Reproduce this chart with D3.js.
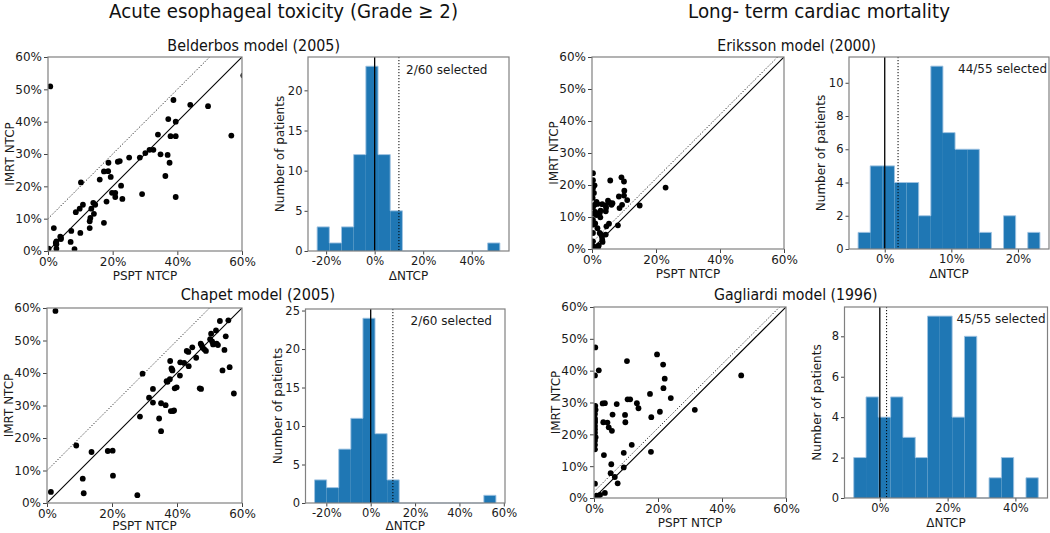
<!DOCTYPE html>
<html><head><meta charset="utf-8">
<script src="https://cdn.jsdelivr.net/npm/d3@7"></script>
<style>
body{margin:0;background:#fff}
svg{display:block}
text{font-family:"DejaVu Sans",sans-serif}
</style>
</head><body>
<svg id="c" width="1050" height="533"></svg>
<script>
// ---------------- DATA ----------------
const groupTitles = ["Acute esophageal toxicity (Grade \u2265 2)", "Long- term cardiac mortality"];
const modelTitles = ["Belderbos model (2005)", "Chapet model (2005)", "Eriksson model (2000)", "Gagliardi model (1996)"];
const selectedLabels = ["2/60 selected", "2/60 selected", "44/55 selected", "45/55 selected"];
const thresholds = [10, 10, 2, 2];

// scatter: PSPT NTCP (x) vs IMRT NTCP (y), in %
const belderbosPSPT = [0.7,0.2,1.8,2.6,2.6,2.6,4.0,4.0,7.0,7.2,8.2,8.6,9.8,10.8,10.0,10.2,12.9,12.9,13.1,13.4,14.0,14.2,14.6,16.0,17.3,17.3,18.1,18.6,18.7,19.4,19.8,20.8,20.8,21.6,22.2,22.6,23.0,25.1,28.4,29.1,30.1,31.4,32.6,34.0,34.8,36.3,37.0,37.2,37.6,37.9,38.8,39.5,39.5,39.5,44.0,49.5,56.7,60.4,3.8,2.4];
const belderbosIMRT = [50.9,0.7,7.1,3.0,2.1,0.7,4.1,3.7,2.8,6.2,0.6,12.0,13.1,14.3,5.6,21.2,7.1,9.2,10.2,13.1,14.9,11.5,14.3,22.1,8.7,24.6,15.3,24.7,27.3,22.9,18.0,18.0,16.7,27.6,27.8,20.2,16.1,28.9,28.9,17.6,30.3,31.3,31.3,36.0,29.9,23.2,29.7,40.8,27.3,35.5,46.7,40.0,35.5,16.7,45.2,44.8,35.7,54.3,4.4,2.5];

const chapetPSPT = [1.2,2.6,9.0,11.0,11.3,13.7,18.7,20.2,20.3,27.8,28.6,29.4,31.4,32.6,32.6,34.5,35.1,35.1,36.5,37.1,37.8,37.9,38.1,38.3,38.6,38.8,39.1,39.3,39.9,40.9,41.0,42.2,43.5,43.6,44.7,45.9,47.0,47.3,47.4,47.9,48.4,48.9,50.2,50.5,51.1,52.0,52.2,52.6,53.2,54.0,54.6,55.0,55.8,56.2,57.5,38.5,47.6,50.8,43.0,36.8];
const chapetIMRT = [3.4,59.1,17.7,7.5,3.0,15.7,16.0,16.1,8.4,2.4,26.6,39.8,32.4,35.1,30.9,26.0,22.1,30.7,30.1,37.3,38.1,43.7,28.3,41.4,40.8,28.3,28.5,35.3,35.6,39.2,43.3,43.1,46.5,42.1,47.9,44.7,35.3,49.0,35.1,47.8,47.3,46.8,50.4,52.1,48.8,53.1,49.0,48.6,56.0,40.8,47.1,51.3,56.2,41.8,33.7,41.0,48.5,49.7,46.8,37.5];

const erikssonPSPT = [0.3,0.3,0.8,0.3,0.3,0.3,0.3,0.3,0.5,0.8,1.0,1.4,1.7,1.4,1.7,1.9,2.1,2.4,2.6,2.7,2.4,2.9,3.1,3.2,3.3,3.2,4.3,4.3,4.4,4.3,4.5,5.0,5.5,5.3,5.7,6.1,6.4,8.1,8.4,8.6,9.2,9.4,10.0,10.0,10.1,11.0,14.9,23.0,0.3,0.3,0.2,1.2,0.6,0.3,1.0];
const erikssonIMRT = [23.7,19.8,19.9,19.0,11.0,9.1,7.6,2.4,0.8,13.8,11.6,14.7,14.1,10.6,6.5,0.6,1.1,11.2,9.9,12.0,5.0,4.5,3.9,2.9,2.2,14.0,13.6,11.8,12.9,4.5,7.1,15.1,14.5,7.9,21.4,13.8,14.3,7.4,16.4,12.8,22.4,13.8,21.1,16.7,18.2,15.3,13.6,19.2,13.0,5.0,16.0,0.4,17.5,21.5,8.0];

const gagliardiPSPT = [0.4,0.3,1.5,0.4,0.5,0.3,0.3,0.3,0.3,0.3,0.5,0.3,0.3,0.3,0.8,1.9,2.7,3.4,3.1,2.9,3.4,4.2,4.6,5.2,5.4,5.6,5.8,6.5,7.1,7.4,9.3,9.3,9.7,9.8,10.3,10.5,11.3,11.8,13.4,13.9,17.5,17.9,17.8,19.7,20.6,21.6,21.7,22.1,24.0,31.5,46.0,0.3,0.3,0.3,1.2];
const gagliardiIMRT = [47.3,38.5,40.1,28.9,27.7,26.4,25.0,23.7,22.6,21.6,19.1,16.7,15.3,4.5,0.7,1.0,29.7,29.8,13.5,23.8,1.6,23.7,22.2,7.8,10.6,21.1,26.2,6.6,29.5,4.6,14.2,9.6,26.1,23.8,43.0,31.0,31.0,16.7,29.8,28.2,32.7,25.4,14.5,45.1,27.1,41.9,34.5,37.5,31.4,27.7,38.5,20.5,18.0,24.3,0.3];

// histograms of ΔNTCP (IMRT - PSPT), 15 bins each
const belderbosCounts = [3,1,3,12,23,12,5,0,0,0,0,0,0,0,1];
const chapetCounts    = [3,2,7,11,24,9,3,0,0,0,0,0,0,0,1];
const erikssonCounts  = [1,5,5,4,4,2,11,7,6,6,1,0,2,0,1];
const gagliardiCounts = [2,5,4,5,3,2,9,9,4,8,0,1,2,0,1];
const binStarts = [-23.7, -25.3, -4.0, -7.7];
const binWidths = [5.02, 5.45, 1.82, 3.63];

// tick labels
const scatterTicksX = [0, 20, 40, 60];
const scatterTicksY = [0, 10, 20, 30, 40, 50, 60];
const histTicksX = [[-20, 0, 20, 40], [-20, 0, 20, 40, 60], [0, 10, 20], [0, 20, 40]];
const histTicksY = [[0, 5, 10, 15, 20], [0, 5, 10, 15, 20, 25], [0, 2, 4, 6, 8, 10], [0, 2, 4, 6, 8]];

// ---------------- LAYOUT ----------------
const svg = d3.select("#c");
const FS = 12;
const BLUE = "#1f77b4";

const scatterBoxes = [
  {x0: 48, x1: 242, y0: 57, y1: 251},
  {x0: 47, x1: 242, y0: 308, y1: 503},
  {x0: 592, x1: 784, y0: 57, y1: 249},
  {x0: 594, x1: 786, y0: 307, y1: 498}
];
const histBoxes = [
  {x0: 308, x1: 509, y0: 57, y1: 251},
  {x0: 305.5, x1: 505, y0: 309, y1: 503},
  {x0: 849, x1: 1049, y0: 57, y1: 249},
  {x0: 844.5, x1: 1047.5, y0: 307, y1: 498}
];
const scatterData = [
  [belderbosPSPT, belderbosIMRT], [chapetPSPT, chapetIMRT],
  [erikssonPSPT, erikssonIMRT], [gagliardiPSPT, gagliardiIMRT]
];
const histCounts = [belderbosCounts, chapetCounts, erikssonCounts, gagliardiCounts];

function xLabelY(b) { return Math.min(b.y1 + 29, 530); }

function styleAxis(ax, fs) {
  ax.select(".domain").remove();
  ax.selectAll(".tick line").attr("stroke", "#444").attr("stroke-width", 1);
  ax.selectAll(".tick text").attr("fill", "#1a1a1a").attr("font-size", fs)
    .attr("font-family", "DejaVu Sans, sans-serif");
}

function drawScatter(i) {
  const b = scatterBoxes[i];
  const [xs, ys] = scatterData[i];
  const thr = thresholds[i];
  const x = d3.scaleLinear().domain([0, 60]).range([b.x0, b.x1]);
  const y = d3.scaleLinear().domain([0, 60]).range([b.y1, b.y0]);
  const g = svg.append("g");
  const cid = "clipS" + i;
  svg.append("clipPath").attr("id", cid).append("rect")
    .attr("x", b.x0).attr("y", b.y0).attr("width", b.x1 - b.x0).attr("height", b.y1 - b.y0);
  const pg = g.append("g").attr("clip-path", `url(#${cid})`);
  pg.append("line").attr("x1", x(0)).attr("y1", y(0)).attr("x2", x(60)).attr("y2", y(60))
    .attr("stroke", "#000").attr("stroke-width", 1.1);
  pg.append("line").attr("x1", x(0)).attr("y1", y(thr)).attr("x2", x(60 - thr)).attr("y2", y(60))
    .attr("stroke", "#222").attr("stroke-width", 1).attr("stroke-dasharray", "1.2,1.8");
  pg.selectAll("circle").data(xs.map((v, k) => [v, ys[k]])).join("circle")
    .attr("cx", d => x(d[0])).attr("cy", d => y(d[1])).attr("r", 2.9).attr("fill", "#000");

  const ax = g.append("g").attr("transform", `translate(0,${b.y1})`)
    .call(d3.axisBottom(x).tickValues(scatterTicksX).tickFormat(d => d + "%").tickSizeOuter(0).tickSize(4).tickPadding(2));
  styleAxis(ax, FS);
  const ay = g.append("g").attr("transform", `translate(${b.x0},0)`)
    .call(d3.axisLeft(y).tickValues(scatterTicksY).tickFormat(d => d + "%").tickSizeOuter(0).tickSize(4).tickPadding(2));
  styleAxis(ay, FS);
  g.append("rect").attr("x", b.x0).attr("y", b.y0).attr("width", b.x1 - b.x0).attr("height", b.y1 - b.y0)
    .attr("fill", "none").attr("stroke", "#808080").attr("stroke-width", 1.2);
  g.append("text").attr("x", (b.x0 + b.x1) / 2).attr("y", xLabelY(b)).attr("text-anchor", "middle")
    .attr("font-size", FS).attr("fill", "#1a1a1a").text("PSPT NTCP");
  g.append("text").attr("transform", `translate(${b.x0 - 34},${(b.y0 + b.y1) / 2}) rotate(-90)`)
    .attr("text-anchor", "middle").attr("font-size", FS).attr("fill", "#1a1a1a").text("IMRT NTCP");
}

function drawHist(i) {
  const b = histBoxes[i];
  const counts = histCounts[i];
  const s = binStarts[i], w = binWidths[i];
  const e = s + w * counts.length;
  const pad = (e - s) * 0.05;
  const x = d3.scaleLinear().domain([s - pad, e + pad]).range([b.x0, b.x1]);
  const ymax = d3.max(counts) * 1.05;
  const y = d3.scaleLinear().domain([0, ymax]).range([b.y1, b.y0]);
  const g = svg.append("g");
  const bins = counts.map((c, k) => ({a: s + k * w, b: s + (k + 1) * w, c}));
  g.selectAll("rect.bar").data(bins.filter(d => d.c > 0)).join("rect").attr("class", "bar")
    .attr("x", d => x(d.a)).attr("y", d => y(d.c))
    .attr("width", d => x(d.b) - x(d.a)).attr("height", d => y(0) - y(d.c))
    .attr("fill", BLUE);
  // faint outline of histogram silhouette
  const pts = [[x(s), y(0)]];
  bins.forEach(d => { pts.push([x(d.a), y(d.c)]); pts.push([x(d.b), y(d.c)]); });
  pts.push([x(e), y(0)]);
  g.append("path").attr("d", d3.line()(pts)).attr("fill", "none")
    .attr("stroke", "#9fc3e2").attr("stroke-width", 0.9);

  g.append("line").attr("x1", x(0)).attr("x2", x(0)).attr("y1", b.y0).attr("y2", b.y1)
    .attr("stroke", "#000").attr("stroke-width", 1.3);
  g.append("line").attr("x1", x(thresholds[i])).attr("x2", x(thresholds[i])).attr("y1", b.y0).attr("y2", b.y1)
    .attr("stroke", "#000").attr("stroke-width", 1).attr("stroke-dasharray", "1.2,1.8");

  const ax = g.append("g").attr("transform", `translate(0,${b.y1})`)
    .call(d3.axisBottom(x).tickValues(histTicksX[i]).tickFormat(d => d + "%").tickSizeOuter(0).tickSize(3.5).tickPadding(2));
  styleAxis(ax, 11.5);
  const ay = g.append("g").attr("transform", `translate(${b.x0},0)`)
    .call(d3.axisLeft(y).tickValues(histTicksY[i]).tickFormat(d3.format("d")).tickSizeOuter(0).tickSize(3.5).tickPadding(2));
  styleAxis(ay, 11.5);
  g.append("rect").attr("x", b.x0).attr("y", b.y0).attr("width", b.x1 - b.x0).attr("height", b.y1 - b.y0)
    .attr("fill", "none").attr("stroke", "#808080").attr("stroke-width", 1.2);
  g.append("text").attr("x", (b.x0 + b.x1) / 2).attr("y", xLabelY(b)).attr("text-anchor", "middle")
    .attr("font-size", FS).attr("fill", "#1a1a1a").text("\u0394NTCP");
  g.append("text").attr("transform", `translate(${b.x0 - 24},${(b.y0 + b.y1) / 2}) rotate(-90)`)
    .attr("text-anchor", "middle").attr("font-size", FS).attr("fill", "#1a1a1a").text("Number of patients");
  const selOff = [[98, 17], [105, 16], [109, 16], [112, 16]][i];
  g.append("text").attr("x", b.x0 + selOff[0]).attr("y", b.y0 + selOff[1])
    .attr("font-size", FS).attr("fill", "#1a1a1a").text(selectedLabels[i]);
}

for (let i = 0; i < 4; i++) { drawScatter(i); drawHist(i); }

// titles
const titleFont = "Lato, 'Open Sans', sans-serif";
const gt = [{x: 283.5, y: 18, w: 349}, {x: 819, y: 18, w: 262}];
groupTitles.forEach((t, k) => {
  svg.append("text").attr("x", gt[k].x).attr("y", gt[k].y).attr("text-anchor", "middle")
    .attr("font-family", titleFont).attr("font-size", 20).attr("fill", "#111")
    .attr("textLength", gt[k].w).attr("lengthAdjust", "spacingAndGlyphs").text(t);
});
const mt = [{x: 253.7, y: 50.5, w: 172.7}, {x: 257.9, y: 299.5, w: 154.4}, {x: 796.7, y: 50.5, w: 158.7}, {x: 795.8, y: 299.5, w: 163.7}];
modelTitles.forEach((t, k) => {
  svg.append("text").attr("x", mt[k].x).attr("y", mt[k].y).attr("text-anchor", "middle")
    .attr("font-family", titleFont).attr("font-size", 15).attr("fill", "#111")
    .attr("textLength", mt[k].w).attr("lengthAdjust", "spacingAndGlyphs").text(t);
});
</script>
</body></html>
